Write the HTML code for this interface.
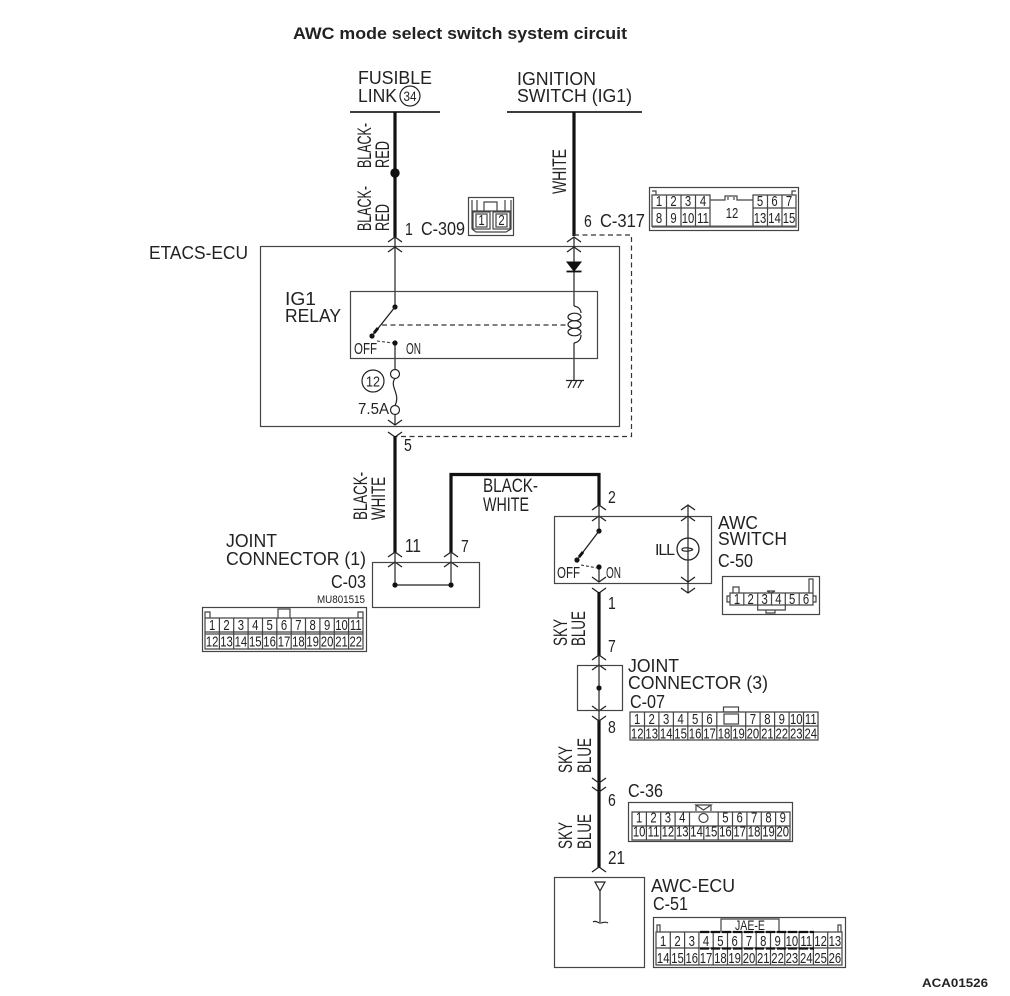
<!DOCTYPE html>
<html><head><meta charset="utf-8"><style>
html,body{margin:0;padding:0;background:#fff}
svg{display:block}
text{font-family:"Liberation Sans",sans-serif;fill:#222}
.l{font-size:18px}
.n{font-size:18px}
.r{font-size:19px}
.c{font-size:14.5px;text-anchor:middle;transform-box:fill-box;transform-origin:center;transform:scaleX(.78)}
.d{font-size:18px;transform-box:fill-box;transform-origin:left center;transform:scaleX(.78)}
.k{font-size:16px}
.w{fill:none;stroke:#222;stroke-width:1.2}
.g{fill:none;stroke:#444;stroke-width:1.2}
.t{fill:none;stroke:#111;stroke-width:3.2}
.h{fill:none;stroke:#333;stroke-width:1.2;stroke-dasharray:5 3.5}
</style></head><body>
<svg width="1010" height="996" viewBox="0 0 1010 996" xmlns="http://www.w3.org/2000/svg">
<defs>
<path id="u" d="M-7 5L0 0L7 5" fill="none" stroke="#222" stroke-width="1.3"/>
<path id="d" d="M-7 -5L0 0L7 -5" fill="none" stroke="#222" stroke-width="1.3"/>
</defs>

<text x="293" y="39" style="font-size:16.2px;font-weight:bold" textLength="334" lengthAdjust="spacingAndGlyphs">AWC mode select switch system circuit</text>

<!-- Top sources -->
<text class="l" x="358" y="84" textLength="74" lengthAdjust="spacingAndGlyphs">FUSIBLE</text>
<text class="l" x="358" y="102" textLength="39" lengthAdjust="spacingAndGlyphs">LINK</text>
<circle cx="410" cy="96" r="10" class="w"/>
<text x="410" y="101" style="font-size:13.5px;text-anchor:middle" textLength="13" lengthAdjust="spacingAndGlyphs">34</text>
<path d="M350 112H440M507 112H642" fill="none" stroke="#222" stroke-width="1.8"/>
<text class="l" x="517" y="85" textLength="79" lengthAdjust="spacingAndGlyphs">IGNITION</text>
<text class="l" x="517" y="102" textLength="115" lengthAdjust="spacingAndGlyphs">SWITCH (IG1)</text>

<path class="t" d="M395 112V238M574 112V236"/>
<circle cx="395" cy="173" r="4.700" fill="#111"/>
<text class="r" transform="translate(371,168) rotate(-90)" textLength="45" lengthAdjust="spacingAndGlyphs">BLACK-</text>
<text class="r" transform="translate(389,168) rotate(-90)" textLength="27" lengthAdjust="spacingAndGlyphs">RED</text>
<text class="r" transform="translate(371,231) rotate(-90)" textLength="45" lengthAdjust="spacingAndGlyphs">BLACK-</text>
<text class="r" transform="translate(389,231) rotate(-90)" textLength="27" lengthAdjust="spacingAndGlyphs">RED</text>
<text class="r" transform="translate(566,194) rotate(-90)" textLength="45" lengthAdjust="spacingAndGlyphs">WHITE</text>
<text class="d" x="405" y="235">1</text>
<text class="n" x="421" y="235" textLength="44" lengthAdjust="spacingAndGlyphs">C-309</text>
<text class="d" x="584" y="227">6</text>
<text class="n" x="600" y="227" textLength="45" lengthAdjust="spacingAndGlyphs">C-317</text>

<!-- C-309 connector -->
<rect x="468.500" y="197.500" width="45" height="38" class="g"/>
<path class="g" d="M472 229V200M477 200V211M484 211V202H497V211M505 200V211M511 200V229L506 232H476L472 229M472 211H511"/>
<rect x="473" y="212" width="17" height="17" class="g"/>
<rect x="476" y="214" width="11" height="13" class="g"/>
<rect x="493" y="212" width="17" height="17" class="g"/>
<rect x="496" y="214" width="11" height="13" class="g"/>
<text class="c" x="481.500" y="225">1</text>
<text class="c" x="501.500" y="225">2</text>

<!-- C-317 connector -->
<rect x="649.500" y="187.500" width="149" height="43" class="g"/>
<path class="g" d="M652 227V195H710V208H652M652 227H710V200H725V196H737V200H753V227H796V195H753V208H796M666.500 195V227M681 195V227M695.500 195V227M767.500 195V227M782 195V227M710 227H753M652 191H656V195M796 191H792V195M728 197V200M734 197V200"/>
<path d="M652 226.500H796" stroke="#555" stroke-width="2"/>
<text class="c" x="659" y="206">1</text><text class="c" x="673.500" y="206">2</text><text class="c" x="688" y="206">3</text><text class="c" x="703" y="206">4</text>
<text class="c" x="760" y="206">5</text><text class="c" x="774.500" y="206">6</text><text class="c" x="789" y="206">7</text>
<text class="c" x="659" y="223">8</text><text class="c" x="673.500" y="223">9</text><text class="c" x="688" y="223">10</text><text class="c" x="703" y="223">11</text>
<text class="c" x="732" y="218">12</text>
<text class="c" x="760" y="223">13</text><text class="c" x="774.500" y="223">14</text><text class="c" x="789" y="223">15</text>

<!-- ETACS -->
<text class="l" x="149" y="259" textLength="99" lengthAdjust="spacingAndGlyphs">ETACS-ECU</text>
<rect x="260.500" y="246.500" width="359" height="180" class="g"/>
<use href="#u" x="395" y="237"/><use href="#u" x="395" y="247"/>
<use href="#u" x="574" y="237"/><use href="#u" x="574" y="247"/>
<path class="h" d="M574 235H631.500V436.500H396"/>
<path class="w" d="M395 238V307M574 238V306M574 343V380M395 343V370M395 378.500C389 386 401 394 395 405.500M395 414V425"/>
<path d="M567 262H581L574 271Z" fill="#111" stroke="#111"/>
<path d="M566.500 271.500H581.500" stroke="#111" stroke-width="1.800"/>
<rect x="350.500" y="291.500" width="247" height="67" class="g"/>
<text class="l" x="285" y="305" textLength="31" lengthAdjust="spacingAndGlyphs">IG1</text>
<text class="l" x="285" y="322" textLength="56" lengthAdjust="spacingAndGlyphs">RELAY</text>
<circle cx="395" cy="307" r="2.600" fill="#111"/>
<circle cx="372" cy="336" r="2.600" fill="#111"/>
<circle cx="395" cy="343" r="2.600" fill="#111"/>
<path d="M395 307L372 336" stroke="#222" stroke-width="1.300"/>
<path d="M374 333L378 328" stroke="#111" stroke-width="3"/>
<path class="h" d="M382 325H567"/>
<path d="M377 341L393 343" fill="none" stroke="#333" stroke-width="1.100" stroke-dasharray="3 2"/>
<path class="w" d="M574 306C579 307 581 310 581 313M574 343C579 342 581 339 581 335"/>
<ellipse cx="574.500" cy="317" rx="6.500" ry="3.800" class="w"/>
<ellipse cx="574.500" cy="324.500" rx="6.500" ry="3.800" class="w"/>
<ellipse cx="574.500" cy="332" rx="6.500" ry="3.800" class="w"/>
<path class="w" d="M566 380.500H584M568 388L572 380M573 388L577 380M578 388L582 380"/>
<text class="k" x="354" y="354" textLength="23" lengthAdjust="spacingAndGlyphs">OFF</text>
<text class="k" x="406" y="354" textLength="15" lengthAdjust="spacingAndGlyphs">ON</text>
<circle cx="395" cy="374" r="4.500" fill="#fff" stroke="#222" stroke-width="1.200"/>
<circle cx="395" cy="410" r="4.500" fill="#fff" stroke="#222" stroke-width="1.200"/>
<circle cx="373" cy="381" r="11" class="w"/>
<text x="373" y="386.500" style="font-size:15px;text-anchor:middle" textLength="14" lengthAdjust="spacingAndGlyphs">12</text>
<text class="k" x="358" y="414" textLength="31" lengthAdjust="spacingAndGlyphs">7.5A</text>

<use href="#d" x="395" y="425"/><use href="#d" x="395" y="437"/>
<path class="t" d="M395 436V553M451 553V474.500H599V506"/>
<text class="d" x="404" y="451">5</text>
<text class="r" transform="translate(367,520) rotate(-90)" textLength="48" lengthAdjust="spacingAndGlyphs">BLACK-</text>
<text class="r" transform="translate(385,520) rotate(-90)" textLength="43" lengthAdjust="spacingAndGlyphs">WHITE</text>
<text class="r" x="483" y="492" textLength="55" lengthAdjust="spacingAndGlyphs">BLACK-</text>
<text class="r" x="483" y="511" textLength="46" lengthAdjust="spacingAndGlyphs">WHITE</text>
<text class="d" x="608" y="503">2</text>
<text class="n" x="405" y="552" textLength="16" lengthAdjust="spacingAndGlyphs">11</text>
<text class="d" x="461" y="552">7</text>

<!-- Joint connector 1 -->
<use href="#u" x="395" y="552"/><use href="#u" x="395" y="562"/>
<use href="#u" x="451" y="552"/><use href="#u" x="451" y="562"/>
<rect x="372.500" y="562.500" width="107" height="45" class="g"/>
<path class="w" d="M395 553V585H451V553"/>
<circle cx="395" cy="585" r="2.600" fill="#111"/><circle cx="451" cy="585" r="2.600" fill="#111"/>
<text class="l" x="226" y="547" textLength="51" lengthAdjust="spacingAndGlyphs">JOINT</text>
<text class="l" x="226" y="565" textLength="140" lengthAdjust="spacingAndGlyphs">CONNECTOR (1)</text>
<text class="n" x="331" y="588" textLength="35" lengthAdjust="spacingAndGlyphs">C-03</text>
<text x="317" y="603" style="font-size:11px" textLength="48" lengthAdjust="spacingAndGlyphs">MU801515</text>

<!-- C-03 connector -->
<rect x="202.500" y="607.500" width="164" height="44" class="g"/>
<path class="g" d="M205 618H363V649H205ZM205 632H363M205 634H363M219.400 618V649M233.700 618V649M248.100 618V649M262.500 618V649M276.800 618V649M291.200 618V649M305.500 618V649M319.900 618V649M334.300 618V649M348.600 618V649M278 618V609H290V618M205 618V612H210V618M358 618V612H363V618"/>
<text class="c" x="212.200" y="630">1</text><text class="c" x="226.500" y="630">2</text><text class="c" x="240.900" y="630">3</text><text class="c" x="255.300" y="630">4</text><text class="c" x="269.600" y="630">5</text><text class="c" x="284" y="630">6</text><text class="c" x="298.400" y="630">7</text><text class="c" x="312.700" y="630">8</text><text class="c" x="327.100" y="630">9</text><text class="c" x="341.500" y="630">10</text><text class="c" x="355.800" y="630">11</text>
<text class="c" x="212.200" y="646.500">12</text><text class="c" x="226.500" y="646.500">13</text><text class="c" x="240.900" y="646.500">14</text><text class="c" x="255.300" y="646.500">15</text><text class="c" x="269.600" y="646.500">16</text><text class="c" x="284" y="646.500">17</text><text class="c" x="298.400" y="646.500">18</text><text class="c" x="312.700" y="646.500">19</text><text class="c" x="327.100" y="646.500">20</text><text class="c" x="341.500" y="646.500">21</text><text class="c" x="355.800" y="646.500">22</text>

<!-- AWC switch -->
<use href="#u" x="599" y="505"/><use href="#u" x="599" y="516"/>
<use href="#u" x="688" y="505"/><use href="#u" x="688" y="516"/>
<use href="#d" x="688" y="582"/><use href="#d" x="688" y="593"/>
<use href="#d" x="599" y="582"/><use href="#d" x="599" y="593"/>
<rect x="554.500" y="516.500" width="157" height="67" class="g"/>
<path class="w" d="M599 505V531M599 567V582M688 505V593"/>
<circle cx="599" cy="531" r="2.600" fill="#111"/><circle cx="577" cy="560" r="2.600" fill="#111"/><circle cx="599" cy="567" r="2.600" fill="#111"/>
<path d="M599 531L577 560" stroke="#222" stroke-width="1.300"/>
<path d="M579 557L583 552" stroke="#111" stroke-width="3"/>
<path d="M581 565L597 568" fill="none" stroke="#333" stroke-width="1.100" stroke-dasharray="3 2"/>
<text class="k" x="557" y="578" textLength="23" lengthAdjust="spacingAndGlyphs">OFF</text>
<text class="k" x="606" y="578" textLength="15" lengthAdjust="spacingAndGlyphs">ON</text>
<circle cx="688" cy="549" r="11" fill="#fff" stroke="#222" stroke-width="1.300"/>
<path class="w" d="M688 538V560M693 549.500C690 551.500 682 552 682 549.500C682 547 690 547.500 693 549.500"/>
<text class="k" x="655" y="555" textLength="20" lengthAdjust="spacing">ILL</text>
<text class="l" x="718" y="529" textLength="40" lengthAdjust="spacingAndGlyphs">AWC</text>
<text class="l" x="718" y="545" textLength="69" lengthAdjust="spacingAndGlyphs">SWITCH</text>
<text class="n" x="718" y="567" textLength="35" lengthAdjust="spacingAndGlyphs">C-50</text>

<!-- C-50 connector -->
<rect x="722.500" y="576.500" width="97" height="38" class="g"/>
<path class="g" d="M730 593H813V605H730ZM743.800 593V605M757.700 593V605M771.500 593V605M785.300 593V605M799.200 593V605M757.700 605V610H785.300V605M766 610H775V613H766ZM767 591L771 593L775 591ZM727 596H730V602H727ZM813 596H816V602H813ZM733 593V587H739V593M809 593V579H813V593"/>
<text class="c" x="737" y="604">1</text><text class="c" x="750.700" y="604">2</text><text class="c" x="764.600" y="604">3</text><text class="c" x="778.400" y="604">4</text><text class="c" x="792.200" y="604">5</text><text class="c" x="806" y="604">6</text>

<!-- Lower vertical -->
<path class="t" d="M599 592V656M599 720V868"/>
<text class="d" x="608" y="609">1</text>
<text class="d" x="608" y="652">7</text>
<text class="d" x="608" y="733">8</text>
<text class="d" x="608" y="806">6</text>
<text class="n" x="608" y="864" textLength="17" lengthAdjust="spacingAndGlyphs">21</text>
<text class="r" transform="translate(567,646) rotate(-90)" textLength="27" lengthAdjust="spacingAndGlyphs">SKY</text>
<text class="r" transform="translate(585,646) rotate(-90)" textLength="35" lengthAdjust="spacingAndGlyphs">BLUE</text>
<text class="r" transform="translate(572,773) rotate(-90)" textLength="27" lengthAdjust="spacingAndGlyphs">SKY</text>
<text class="r" transform="translate(591,773) rotate(-90)" textLength="35" lengthAdjust="spacingAndGlyphs">BLUE</text>
<text class="r" transform="translate(572,849) rotate(-90)" textLength="27" lengthAdjust="spacingAndGlyphs">SKY</text>
<text class="r" transform="translate(591,849) rotate(-90)" textLength="35" lengthAdjust="spacingAndGlyphs">BLUE</text>
<use href="#u" x="599" y="655"/><use href="#u" x="599" y="665"/>
<use href="#d" x="599" y="711"/><use href="#d" x="599" y="721"/>
<use href="#d" x="599" y="783"/><use href="#d" x="599" y="792"/>
<use href="#u" x="599" y="867"/>

<!-- Joint connector 3 -->
<rect x="577.500" y="665.500" width="45" height="45" class="g"/>
<path class="w" d="M599 655V720"/>
<circle cx="599" cy="688" r="2.600" fill="#111"/>
<text class="l" x="628" y="672" textLength="51" lengthAdjust="spacingAndGlyphs">JOINT</text>
<text class="l" x="628" y="689" textLength="140" lengthAdjust="spacingAndGlyphs">CONNECTOR (3)</text>
<text class="n" x="630" y="708" textLength="35" lengthAdjust="spacingAndGlyphs">C-07</text>

<!-- C-07 connector -->
<path class="g" d="M630 712H818V740H630ZM630 726H818M644.500 712V740M658.900 712V740M673.400 712V740M687.800 712V740M702.300 712V740M716.800 712V740M745.700 712V740M731.200 726V740M760.100 712V740M774.600 712V740M789.100 712V740M803.500 712V740"/>
<rect x="724" y="714" width="14.500" height="10" class="g"/>
<rect x="723.500" y="707" width="15" height="5" class="g"/>
<text class="c" x="637.200" y="724">1</text><text class="c" x="651.700" y="724">2</text><text class="c" x="666.200" y="724">3</text><text class="c" x="680.600" y="724">4</text><text class="c" x="695.100" y="724">5</text><text class="c" x="709.500" y="724">6</text><text class="c" x="752.900" y="724">7</text><text class="c" x="767.400" y="724">8</text><text class="c" x="781.800" y="724">9</text><text class="c" x="796.300" y="724">10</text><text class="c" x="810.800" y="724">11</text>
<text class="c" x="637.200" y="738.500">12</text><text class="c" x="651.700" y="738.500">13</text><text class="c" x="666.200" y="738.500">14</text><text class="c" x="680.600" y="738.500">15</text><text class="c" x="695.100" y="738.500">16</text><text class="c" x="709.500" y="738.500">17</text><text class="c" x="724" y="738.500">18</text><text class="c" x="738.500" y="738.500">19</text><text class="c" x="752.900" y="738.500">20</text><text class="c" x="767.400" y="738.500">21</text><text class="c" x="781.800" y="738.500">22</text><text class="c" x="796.300" y="738.500">23</text><text class="c" x="810.800" y="738.500">24</text>

<!-- C-36 -->
<text class="n" x="628" y="797" textLength="35" lengthAdjust="spacingAndGlyphs">C-36</text>
<rect x="628.500" y="802.500" width="164" height="39" class="g"/>
<path class="g" d="M632 812H790V840H632ZM632 826H790M646.400 812V840M660.700 812V840M675.100 812V840M689.500 812V840M718.200 812V840M703.800 826V840M732.500 812V840M746.900 812V840M761.300 812V840M775.600 812V840M696 805H711L703.500 810ZM696 805V811M711 805V811"/>
<circle cx="703.500" cy="818" r="4.500" class="g"/>
<text class="c" x="639.200" y="822.500">1</text><text class="c" x="653.500" y="822.500">2</text><text class="c" x="667.900" y="822.500">3</text><text class="c" x="682.300" y="822.500">4</text><text class="c" x="725.400" y="822.500">5</text><text class="c" x="739.700" y="822.500">6</text><text class="c" x="754.100" y="822.500">7</text><text class="c" x="768.500" y="822.500">8</text><text class="c" x="782.800" y="822.500">9</text>
<text class="c" x="639.200" y="836.500">10</text><text class="c" x="653.500" y="836.500">11</text><text class="c" x="667.900" y="836.500">12</text><text class="c" x="682.300" y="836.500">13</text><text class="c" x="696.600" y="836.500">14</text><text class="c" x="711" y="836.500">15</text><text class="c" x="725.400" y="836.500">16</text><text class="c" x="739.700" y="836.500">17</text><text class="c" x="754.100" y="836.500">18</text><text class="c" x="768.500" y="836.500">19</text><text class="c" x="782.800" y="836.500">20</text>

<!-- AWC-ECU -->
<rect x="554.500" y="877.500" width="90" height="90" class="g"/>
<path class="w" d="M595 882H605L600 891ZM600 891V922M593 922C596 920 598 923 600 923C603 923 605 921 608 923"/>
<text class="l" x="651" y="892" textLength="84" lengthAdjust="spacingAndGlyphs">AWC-ECU</text>
<text class="n" x="653" y="910" textLength="35" lengthAdjust="spacingAndGlyphs">C-51</text>

<!-- C-51 connector -->
<rect x="653.500" y="917.500" width="192" height="50" class="g"/>
<path class="g" d="M656 932H842V965H656ZM656 948H842M670.300 932V965M684.600 932V965M698.900 932V965M713.200 932V965M727.500 932V965M741.900 932V965M756.200 932V965M770.500 932V965M784.800 932V965M799.100 932V965M813.400 932V965M827.700 932V965M721 932V919H779V932M657 932V925H660V932M838 932V925H841V932"/>
<path d="M700 932H814M700 948.500H814" stroke="#111" stroke-width="2.200" stroke-dasharray="9 2"/>
<text x="735" y="930" style="font-size:14px" textLength="30" lengthAdjust="spacingAndGlyphs">JAE-E</text>
<text class="c" x="663.200" y="946">1</text><text class="c" x="677.500" y="946">2</text><text class="c" x="691.800" y="946">3</text><text class="c" x="706" y="946">4</text><text class="c" x="720.400" y="946">5</text><text class="c" x="734.700" y="946">6</text><text class="c" x="749" y="946">7</text><text class="c" x="763.300" y="946">8</text><text class="c" x="777.600" y="946">9</text><text class="c" x="791.900" y="946">10</text><text class="c" x="806.300" y="946">11</text><text class="c" x="820.600" y="946">12</text><text class="c" x="834.900" y="946">13</text>
<text class="c" x="663.200" y="963">14</text><text class="c" x="677.500" y="963">15</text><text class="c" x="691.800" y="963">16</text><text class="c" x="706" y="963">17</text><text class="c" x="720.400" y="963">18</text><text class="c" x="734.700" y="963">19</text><text class="c" x="749" y="963">20</text><text class="c" x="763.300" y="963">21</text><text class="c" x="777.600" y="963">22</text><text class="c" x="791.900" y="963">23</text><text class="c" x="806.300" y="963">24</text><text class="c" x="820.600" y="963">25</text><text class="c" x="834.900" y="963">26</text>

<text x="922" y="987" style="font-size:12px;font-weight:bold" textLength="66" lengthAdjust="spacingAndGlyphs">ACA01526</text>
</svg>
</body></html>
